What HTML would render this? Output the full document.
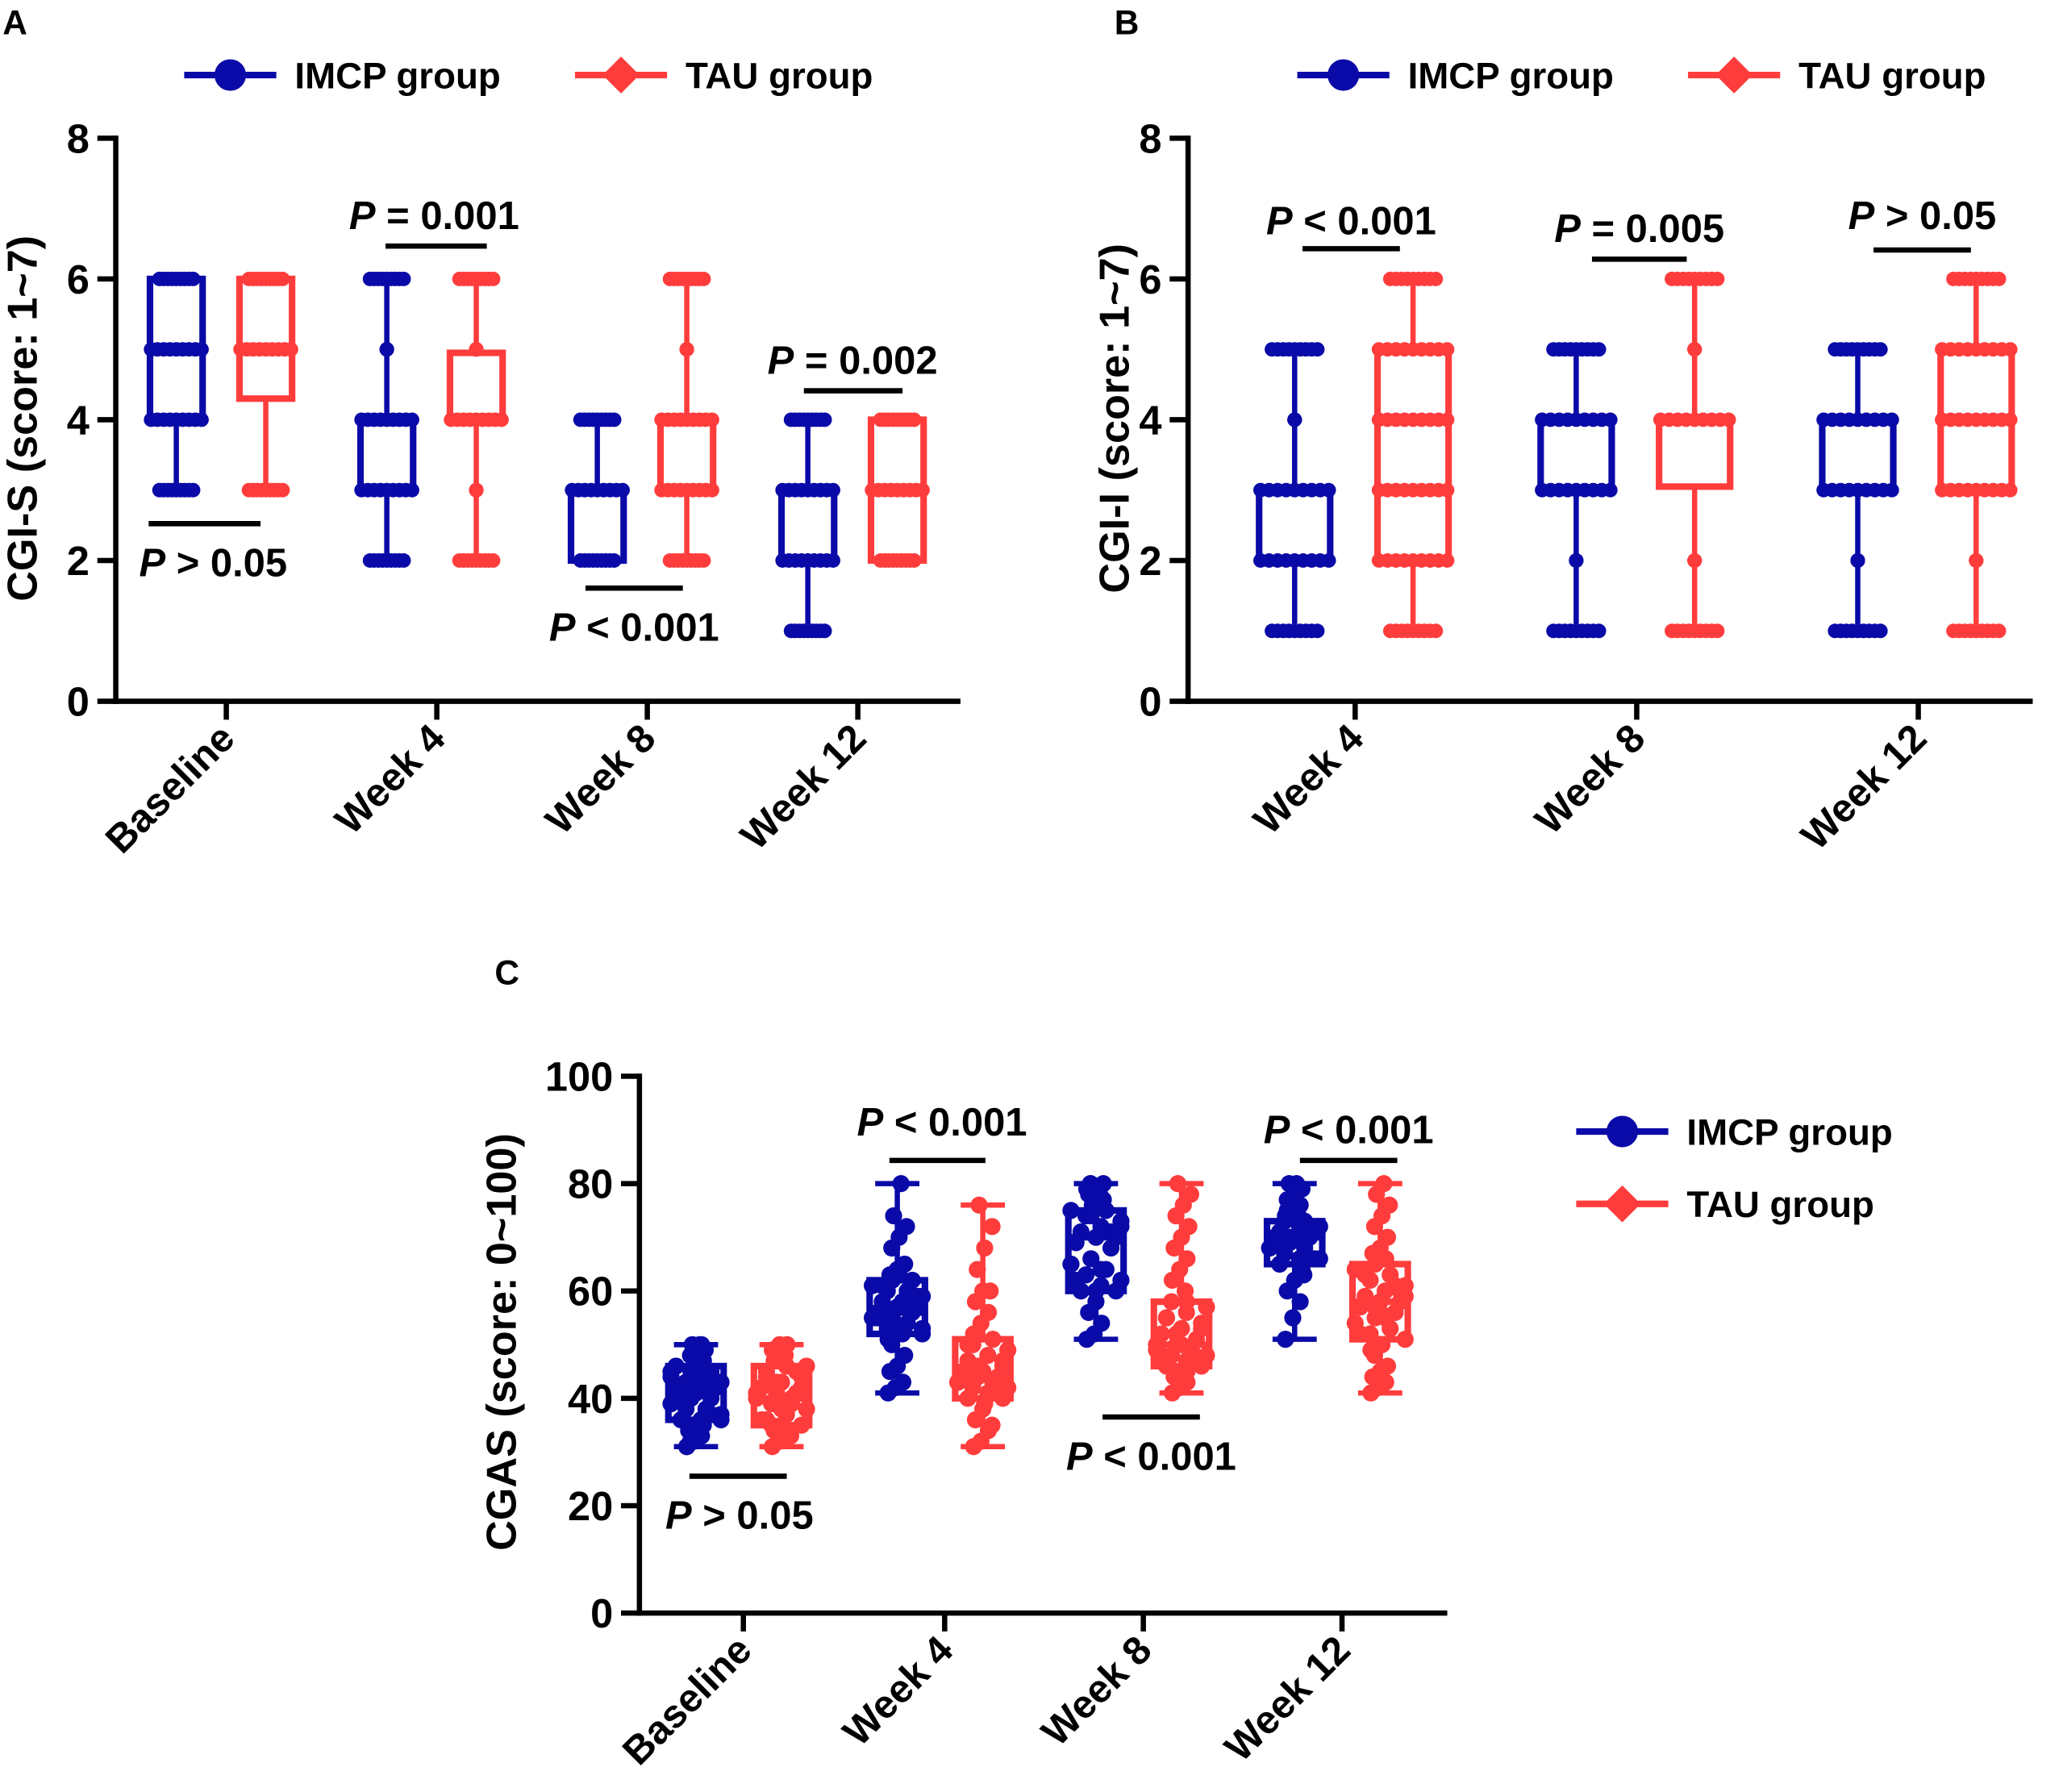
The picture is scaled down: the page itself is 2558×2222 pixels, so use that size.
<!DOCTYPE html>
<html><head><meta charset="utf-8"><style>
html,body{margin:0;padding:0;background:#fff}
svg{display:block}
text{font-family:"Liberation Sans",Arial,sans-serif;font-weight:bold;fill:#000}
</style></head><body>
<svg id="fig" xmlns="http://www.w3.org/2000/svg" width="2558" height="2222" viewBox="0 0 1568 1362"></svg>
<script>
const BLUE="#0a0aa8", RED="#ff3c3c";
// ---------- Panel A data (CGI-S) ----------
const catsA=["Baseline","Week 4","Week 8","Week 12"];
const imcpA=[[3,4,5,6,6],[2,3,4,4,6],[2,2,2,3,4],[1,2,3,3,4]]; // min,q1,med,q3,max
const tauA=[[3,4.3,5,6,6],[2,4,4,4.95,6],[2,3,4,4,6],[2,2,3,4,4]];
const imcpAExtra=[[],[5],[],[]];
const tauAExtra=[[],[5,3],[5],[]];
const pA=["P > 0.05","P = 0.001","P < 0.001","P = 0.002"];
const ticksA=[0,2,4,6,8];
// ---------- Panel B data (CGI-I) ----------
const catsB=["Week 4","Week 8","Week 12"];
const imcpB=[[1,2,2,3,5],[1,3,3,4,5],[1,3,4,4,5]];
const tauB=[[1,2,4,5,6],[1,3.05,4,4,6],[1,3,4,5,6]];
const imcpBExtra=[[4],[2],[2]];
const tauBExtra=[[3],[2,5],[2]];
const pB=["P < 0.001","P = 0.005","P > 0.05"];
// ---------- Panel C data (CGAS) ----------
const catsC=["Baseline","Week 4","Week 8","Week 12"];
const imcpC=[[31,36,42,46,50],[41,52,56,62,80],[51,60,70,75,80],[51,65,70,73,80]];
const tauC=[[31,35,40,46,50],[31,40,44,51,76],[41,46,50,58,80],[41,51,58,65,80]];
const imcpPts=[
[31,32,33,34,35,35,36,36,37,38,38,39,40,40,41,41,42,42,42,43,43,44,44,45,45,46,46,47,48,48,49,50,50,31,33,37,41,44,47,32,34,36,39,43,45,49,50,40,42],
[41,42,43,45,46,48,50,52,52,53,54,55,55,56,56,57,57,58,58,59,60,60,61,62,62,63,64,65,68,70,72,74,80,51,54,58,55,57,59,61,63,53,56,60],
[51,52,54,56,58,60,60,61,62,63,64,65,66,68,69,70,70,71,72,73,74,75,75,76,77,78,79,80,80,64,72,76,78,79,74,71,62,60,77,80],
[51,55,58,60,62,64,65,66,66,67,68,68,69,70,70,70,71,71,72,72,73,73,74,75,76,77,78,79,80,80,63,69,74,68,70,72,75,78,66,71]];
const tauPts=[
[31,32,33,34,35,35,36,37,38,39,40,40,41,41,42,43,44,45,46,46,47,48,49,50,50,36,38,42,44,48,33,35,39,41,43,45,47,49],
[31,32,34,36,38,40,40,41,42,42,43,43,44,44,45,45,46,47,48,49,50,51,52,54,56,58,60,60,64,68,72,76,41,43,46,42,44,45,47,50,39,35],
[41,42,43,44,45,46,46,47,48,48,49,50,50,51,52,53,54,55,56,57,58,60,62,64,66,68,70,72,74,76,78,80,47,49,52,45,48,50,53,55,58],
[41,42,43,44,45,46,48,50,51,52,53,54,55,56,57,58,58,59,60,61,62,63,64,65,66,67,68,70,72,74,76,78,80,49,57,61,52,56,60,63,55,59]];
const pC=["P > 0.05","P < 0.001","P < 0.001","P < 0.001"];
const ticksC=[0,20,40,60,80,100];

const svg=document.getElementById('fig');
const NS="http://www.w3.org/2000/svg";
function mk(tag,attrs,parent,name){const e=document.createElementNS(NS,tag);for(const k in attrs)e.setAttribute(k,attrs[k]);


(parent||svg).appendChild(e);return e;}
function txt(x,y,s,size,anchor,parent,name,extra){const t=mk('text',Object.assign({x:x,y:y,'font-size':size,'text-anchor':anchor||'start'},extra||{}),parent,name);t.textContent=s;return t;}
function ptxt(x,y,s,size,parent,name){const t=mk('text',{x:x,y:y,'font-size':size,'text-anchor':'middle'},parent,name);
const a=document.createElementNS(NS,'tspan');a.setAttribute('font-style','italic');a.textContent='P';t.appendChild(a);
const b=document.createElementNS(NS,'tspan');b.textContent=s.slice(1);t.appendChild(b);return t;}

function panel(o){
  const g=mk('g',{},svg,o.name);
  const sy=v=>o.y0-(v-o.vmin)/(o.vmax-o.vmin)*(o.y0-o.y1);
  o.sy=sy;
  mk('line',{x1:o.x0,y1:o.y1-2,x2:o.x0,y2:o.y0+2,stroke:'#000','stroke-width':4},g,'y-axis');
  mk('line',{x1:o.x0-2,y1:o.y0,x2:o.x2,y2:o.y0,stroke:'#000','stroke-width':4},g,'x-axis');
  o.ticks.forEach(t=>{const y=sy(t);
    mk('line',{x1:o.x0-14,y1:y,x2:o.x0,y2:y,stroke:'#000','stroke-width':4},g,'y-tick');
    txt(o.x0-20,y+11,String(t),31,'end',g,'y-tick-label');});
  o.cats.forEach((c,i)=>{const x=o.cx[i];
    mk('line',{x1:x,y1:o.y0,x2:x,y2:o.y0+14,stroke:'#000','stroke-width':4},g,'x-tick');
    txt(x+8,o.y0+30,c,30,'end',g,'x-tick-label',{transform:`rotate(-45 ${x+8} ${o.y0+30})`});});
  txt(o.ylx,o.yly,o.ylabel,32,'middle',g,'y-axis-title',{transform:`rotate(-90 ${o.ylx} ${o.yly})`});
  return g;
}
function box(g,o,xc,st,col,bw,name){
  const sy=o.sy;
  mk('line',{x1:xc,y1:sy(st[0]),x2:xc,y2:sy(st[4]),stroke:col,'stroke-width':4},g,name+'-whisker');
  [st[0],st[4]].forEach(v=>mk('line',{x1:xc-bw*0.4,y1:sy(v),x2:xc+bw*0.4,y2:sy(v),stroke:col,'stroke-width':4},g,name+'-cap'));
  mk('rect',{x:xc-bw/2,y:sy(st[3]),width:bw,height:Math.max(0.1,sy(st[1])-sy(st[3])),fill:'#fff',stroke:col,'stroke-width':5},g,name+'-box');
  mk('line',{x1:xc-bw/2,y1:sy(st[2]),x2:xc+bw/2,y2:sy(st[2]),stroke:col,'stroke-width':5},g,name+'-median');
}
function intDots(g,o,xc,st,extra,col,bw,name){
  const vals=[...new Set(st.filter(v=>Number.isInteger(v)).concat(extra))];
  vals.forEach(v=>{const y=o.sy(v);const w=(v===st[0]||v===st[4])?bw*0.32:((v>=st[1]&&v<=st[3])?bw*0.48:0);
    for(let k=-4;k<=4;k++){mk('circle',{cx:xc+k*w/4,cy:y,r:5.5,fill:col},g,name+'-point');}});
}
function pmark(g,x1,x2,yl,xt,yt,s){
  mk('line',{x1:x1,y1:yl,x2:x2,y2:yl,stroke:'#000','stroke-width':4},g,'significance-bar');
  ptxt(xt,yt,s,30,g,'p-value-label');
}
function legend(x,y,dx,dy){
  const g=mk('g',{},svg,'legend');
  const e1=mk('g',{},g,'legend-entry-imcp');
  mk('line',{x1:x,y1:y,x2:x+70,y2:y,stroke:BLUE,'stroke-width':5},e1,'legend-line');
  mk('circle',{cx:x+35,cy:y,r:12,fill:BLUE},e1,'legend-marker');
  txt(x+84,y+10,'IMCP group',28,'start',e1,'legend-label');
  const x2=x+dx,y2=y+dy;
  const e2=mk('g',{},g,'legend-entry-tau');
  mk('line',{x1:x2,y1:y2,x2:x2+70,y2:y2,stroke:RED,'stroke-width':5},e2,'legend-line');
  mk('polygon',{points:`${x2+35},${y2-14} ${x2+49},${y2} ${x2+35},${y2+14} ${x2+21},${y2}`,fill:RED},e2,'legend-marker');
  txt(x2+84,y2+10,'TAU group',28,'start',e2,'legend-label');
}

// ---- Panel A ----
txt(2,26,'A',26,'start',svg,'panel-label-a');
legend(140,57,297,0);
const oA={name:'panel-a',x0:88,x2:730,y0:533,y1:105,vmin:0,vmax:8,ticks:ticksA,cats:catsA,cx:[172,332,492,652],ylabel:'CGI-S (score: 1~7)',ylx:28,yly:318};
const gA=panel(oA);
catsA.forEach((c,i)=>{
  box(gA,oA,oA.cx[i]-38,imcpA[i],BLUE,40,'imcp-'+i);intDots(gA,oA,oA.cx[i]-38,imcpA[i],imcpAExtra[i],BLUE,40,'imcp');
  box(gA,oA,oA.cx[i]+30,tauA[i],RED,40,'tau-'+i);intDots(gA,oA,oA.cx[i]+30,tauA[i],tauAExtra[i],RED,40,'tau');
});
pmark(gA,113,198,398,162,438,pA[0]);
pmark(gA,293,370,187,330,174,pA[1]);
pmark(gA,445,519,447,482,487,pA[2]);
pmark(gA,611,686,297,648,284,pA[3]);

// ---- Panel B ----
txt(847,26,'B',26,'start',svg,'panel-label-b');
legend(986,57,297,0);
const oB={name:'panel-b',x0:903,x2:1545,y0:533,y1:105,vmin:0,vmax:8,ticks:ticksA,cats:catsB,cx:[1030,1244,1458],ylabel:'CGI-I (score: 1~7)',ylx:858,yly:318};
const gB=panel(oB);
catsB.forEach((c,i)=>{
  box(gB,oB,oB.cx[i]-46,imcpB[i],BLUE,54,'imcp-'+i);intDots(gB,oB,oB.cx[i]-46,imcpB[i],imcpBExtra[i],BLUE,54,'imcp');
  box(gB,oB,oB.cx[i]+44,tauB[i],RED,54,'tau-'+i);intDots(gB,oB,oB.cx[i]+44,tauB[i],tauBExtra[i],RED,54,'tau');
});
pmark(gB,990,1064,189,1027,178,pB[0]);
pmark(gB,1210,1282,197,1246,184,pB[1]);
pmark(gB,1424,1498,190,1461,174,pB[2]);

// ---- Panel C ----
txt(376,748,'C',26,'start',svg,'panel-label-c');
legend(1198,860,0,55);
const oC={name:'panel-c',x0:486,x2:1100,y0:1226,y1:818,vmin:0,vmax:100,ticks:ticksC,cats:catsC,cx:[565,718,869,1020],ylabel:'CGAS (score: 0~100)',ylx:392,yly:1020};
const gC=panel(oC);
catsC.forEach((c,i)=>{
  [[imcpC[i],imcpPts[i],BLUE,-36,'imcp'],[tauC[i],tauPts[i],RED,29,'tau']].forEach(([st,pts,col,off,nm])=>{
    const xc=oC.cx[i]+off;
    box(gC,oC,xc,st,col,42,nm+'-'+i);
    pts.forEach((v,k)=>{
      const inBox=v>=st[1]&&v<=st[3];
      const j=(((k*37)%11)-5)/5*(inBox?19:7);
      mk('circle',{cx:xc+j,cy:oC.sy(v),r:6.5,fill:col},gC,nm+'-point');
    });
  });
});
pmark(gC,524,598,1122,562,1162,pC[0]);
pmark(gC,676,749,882,716,863,pC[1]);
pmark(gC,838,912,1077,875,1117,pC[2]);
pmark(gC,988,1062,882,1025,869,pC[3]);
</script>
</body></html>
